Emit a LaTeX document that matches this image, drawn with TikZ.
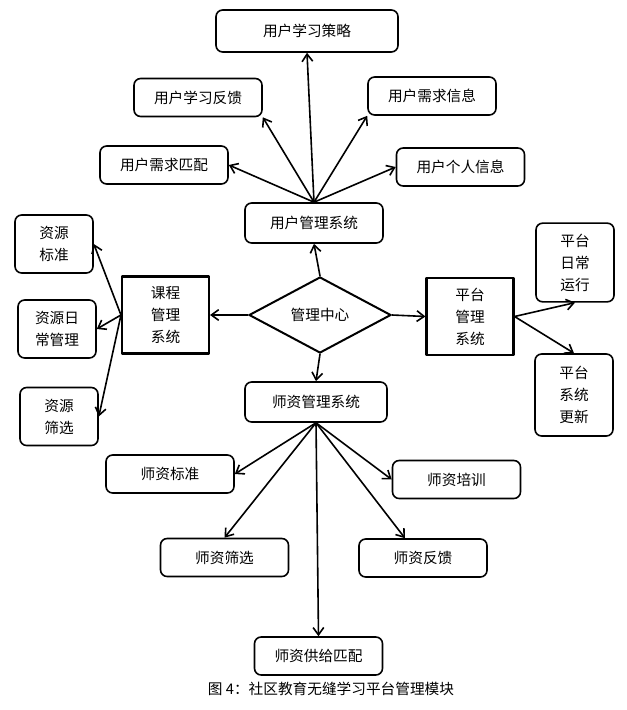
\documentclass[tikz,border=0pt]{standalone}
\usepackage{fontspec}
\newfontfamily\cjk{Noto Sans CJK SC}
\usetikzlibrary{shapes.geometric,arrows.meta,calc}
\begin{document}
\begin{tikzpicture}[x=0.75pt, y=-0.75pt, font=\cjk\fontsize{11}{16.5}\selectfont, line join=round, line cap=round, >={Straight Barb[length=5.5pt,width=8pt]}]
\tikzset{box/.style={draw, rounded corners=5pt, line width=1.2pt, minimum width=96pt, minimum height=28.5pt, inner sep=0pt, align=center},
tall/.style={box, minimum width=58.5pt, minimum height=43.5pt},
sys/.style={draw, line width=1.8pt, minimum width=65pt, minimum height=58pt, inner sep=0pt, align=center},
arr/.style={->, line width=1.2pt}}
\useasboundingbox (0,0) rectangle (626,710);
\node[box, minimum width=136.5pt, minimum height=31.5pt] (ustrat) at (307,31) {用户学习策略};
\node[box] (ufeed) at (198,97.5) {用户学习反馈};
\node[box] (uneed) at (432,96) {用户需求信息};
\node[box] (umatch) at (164,165) {用户需求匹配};
\node[box] (uinfo) at (460.5,167) {用户个人信息};
\node[box, minimum width=103.5pt, minimum height=30pt] (usys) at (314,223) {用户管理系统};
\node[draw, diamond, line width=1.5pt, minimum width=106.5pt, minimum height=57pt, inner sep=0pt] (hub) at (320,315) {管理中心};
\node[sys] (course) at (165.5,315) {课程\\管理\\系统};
\node[sys] (plat) at (470,316.5) {平台\\管理\\系统};
\node[tall] (res1) at (54,244) {资源\\标准};
\node[tall] (res2) at (57,329) {资源日\\常管理};
\node[tall] (res3) at (59,416.5) {资源\\筛选};
\node[tall, minimum height=59pt] (plat1) at (575,262.5) {平台\\日常\\运行};
\node[tall, minimum height=61.5pt] (plat2) at (574,395) {平台\\系统\\更新};
\node[box, minimum width=106.5pt, minimum height=30pt] (tsys) at (316,402) {师资管理系统};
\node[box] (tstd) at (170,474) {师资标准};
\node[box] (ttrain) at (456.5,479.5) {师资培训};
\node[box] (tsel) at (224.5,557.5) {师资筛选};
\node[box] (tfeed) at (423,558) {师资反馈};
\node[box] (tmatch) at (318.5,656) {师资供给匹配};
\node (cap) at (331,689) {图 4：社区教育无缝学习平台管理模块};
\draw[arr] (usys.north) -- (ustrat.south);
\draw[arr] (usys.north) -- (ufeed.south east);
\draw[arr] (usys.north) -- (uneed.south west);
\draw[arr] (usys.north) -- (umatch.east);
\draw[arr] (usys.north) -- (uinfo.west);
\draw[arr] (hub.north) -- (usys.south);
\draw[arr] (hub.west) -- (course.east);
\draw[arr] (hub.east) -- (plat.west);
\draw[arr] (hub.south) -- (tsys.north);
\draw[arr] (course.west) -- (res1.east);
\draw[arr] (course.west) -- (res2.east);
\draw[arr] (course.west) -- (res3.east);
\draw[arr] (plat.east) -- (plat1.south);
\draw[arr] (plat.east) -- (plat2.north);
\draw[arr] (tsys.south) -- (tstd.east);
\draw[arr] (tsys.south) -- (tsel.north);
\draw[arr] (tsys.south) -- (tmatch.north);
\draw[arr] (tsys.south) -- ($(tfeed.north)+(-18,0)$);
\draw[arr] (tsys.south) -- (ttrain.west);
\end{tikzpicture}
\end{document}
